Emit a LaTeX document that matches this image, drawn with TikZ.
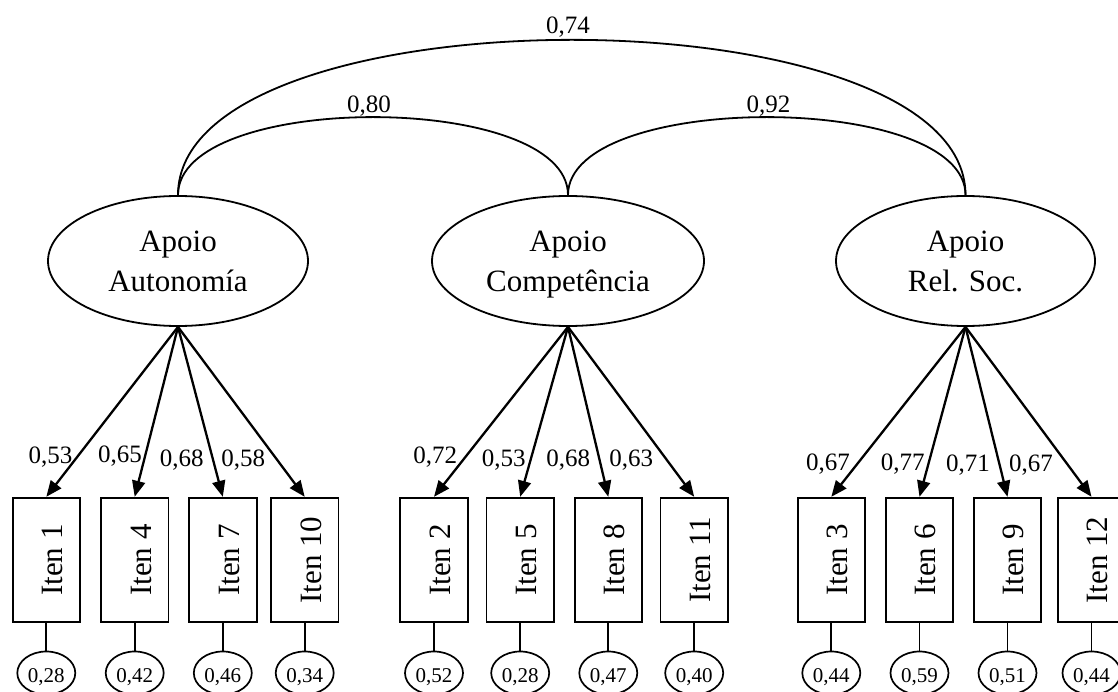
\documentclass[tikz,border=0pt]{standalone}
\usepackage{fontspec}
\setmainfont{Liberation Serif}
\usetikzlibrary{arrows.meta,shapes.geometric}
\newcommand\itemlabel[1]{\rotatebox{90}{\rule{0pt}{33pt}#1}}
\begin{document}
\begin{tikzpicture}[x=1pt,y=-1pt,
  latent/.style={draw, ellipse, line width=1.8pt, minimum height=130pt, inner sep=0pt, align=center, font=\fontsize{31}{40}\selectfont},
  itembox/.style={draw, rectangle, line width=1.9pt, minimum width=67.5pt, minimum height=124.5pt, inner sep=0pt, font=\fontsize{31}{36}\selectfont},
  errnode/.style={draw, ellipse, line width=1.7pt, minimum width=58pt, minimum height=43pt, inner sep=0pt, text height=18pt, text depth=0pt, font=\fontsize{21}{24}\selectfont},
  loadlbl/.style={anchor=base, inner sep=0pt, font=\fontsize{25}{28}\selectfont},
  corrlbl/.style={anchor=base, inner sep=0pt, font=\fontsize{25}{28}\selectfont},
  load/.style={line width=2.3pt, -{Triangle[length=16pt,width=13pt]}},
  corr/.style={line width=1.8pt},
  errline/.style={line width=1.7pt}]
\useasboundingbox (0,0) rectangle (1118,692);

% latent factors
\node[latent, minimum width=260pt] (lat1) at (178,261) {Apoio\\Autonomía};
\node[latent, minimum width=272pt] (lat2) at (568,261) {Apoio\\\smash{Competência}};
\node[latent, minimum width=259pt] (lat3) at (965.5,261) {Apoio\\Rel. Soc.};

% correlations
\draw[corr] (lat1.north) .. controls +(0,-104) and +(0,-104) .. (lat2.north);
\draw[corr] (lat2.north) .. controls +(0,-104) and +(0,-104) .. (lat3.north);
\draw[corr] (lat1.north) .. controls +(0,-207) and +(0,-207) .. (lat3.north);
\node[corrlbl] (c12) at (369,112.5) {0,80};
\node[corrlbl] (c23) at (768.5,112.5) {0,92};
\node[corrlbl] (c13) at (568,33.3) {0,74};

% items
\node[itembox] (i1) at (46.3,560) {\itemlabel{Iten 1}};
\node[itembox] (i4) at (134.7,560) {\itemlabel{Iten 4}};
\node[itembox] (i7) at (222.8,560) {\itemlabel{Iten 7}};
\node[itembox] (i10) at (304.7,560) {\itemlabel{Iten 10}};
\node[itembox] (i2) at (434,560) {\itemlabel{Iten 2}};
\node[itembox] (i5) at (520.2,560) {\itemlabel{Iten 5}};
\node[itembox] (i8) at (608.3,560) {\itemlabel{Iten 8}};
\node[itembox] (i11) at (694.2,560) {\itemlabel{Iten 11}};
\node[itembox] (i3) at (831.3,560) {\itemlabel{Iten 3}};
\node[itembox] (i6) at (919.5,560) {\itemlabel{Iten 6}};
\node[itembox] (i9) at (1007.5,560) {\itemlabel{Iten 9}};
\node[itembox] (i12) at (1091.5,560) {\itemlabel{Iten 12}};

% loadings
\foreach \a/\b in {lat1/i1,lat1/i4,lat1/i7,lat1/i10,lat2/i2,lat2/i5,lat2/i8,lat2/i11,lat3/i3,lat3/i6,lat3/i9,lat3/i12}
  \draw[load] (\a.south) -- (\b.north);

\node[loadlbl] (l1) at (50.5,463) {0,53};
\node[loadlbl] (l4) at (120,462) {0,65};
\node[loadlbl] (l7) at (181.7,466) {0,68};
\node[loadlbl] (l10) at (243.3,466) {0,58};
\node[loadlbl] (l2) at (435.3,463.5) {0,72};
\node[loadlbl] (l5) at (503.7,466) {0,53};
\node[loadlbl] (l8) at (568.2,466.7) {0,68};
\node[loadlbl] (l11) at (631.3,466.7) {0,63};
\node[loadlbl] (l3) at (828,470.7) {0,67};
\node[loadlbl] (l6) at (902.7,470.7) {0,77};
\node[loadlbl] (l9) at (968,471.7) {0,71};
\node[loadlbl] (l12) at (1031,471.7) {0,67};

% errors
\node[errnode] (e1) at (46.3,673) {0,28};
\node[errnode] (e4) at (134.7,673) {0,42};
\node[errnode] (e7) at (222.8,673) {0,46};
\node[errnode] (e10) at (304.7,673) {0,34};
\node[errnode] (e2) at (434,673) {0,52};
\node[errnode] (e5) at (520.2,673) {0,28};
\node[errnode] (e8) at (608.3,673) {0,47};
\node[errnode] (e11) at (694.2,673) {0,40};
\node[errnode] (e3) at (831.3,673) {0,44};
\node[errnode] (e6) at (919.5,673) {0,59};
\node[errnode] (e9) at (1007.5,673) {0,51};
\node[errnode] (e12) at (1091.5,673) {0,44};

\foreach \n in {1,...,12}
  \draw[errline] (i\n.south) -- (e\n.north);
\end{tikzpicture}
\end{document}
